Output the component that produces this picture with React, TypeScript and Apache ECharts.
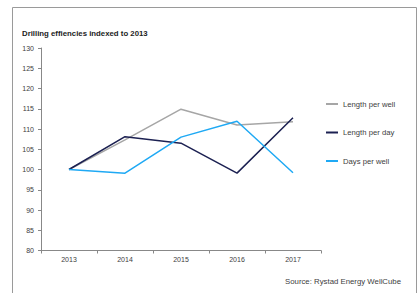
import React, { useEffect, useRef } from "react";
import * as echarts from "echarts";

const years = ["2013", "2014", "2015", "2016", "2017"];
const lengthPerWell = [100, 107.3, 114.9, 111, 111.8];
const lengthPerDay = [100, 108.1, 106.5, 99.1, 112.8];
const daysPerWell = [100, 99.1, 108, 111.9, 99.2];
const seriesNames = ["Length per well", "Length per day", "Days per well"];
const seriesColors = ["#A6A6A6", "#1C2152", "#1FA9F4"];
const titleText = "Drilling effiencies indexed to 2013";
const sourceText = "Source: Rystad Energy WellCube";

export default function App() {
  const ref = useRef<HTMLDivElement>(null);
  useEffect(() => {
    const chart = echarts.init(ref.current!, undefined, { renderer: "svg" });
    const font = "Liberation Sans, Arial, sans-serif";
    const data = [lengthPerWell, lengthPerDay, daysPerWell];
    chart.setOption({
      animation: false,
      textStyle: { fontFamily: font },
      title: {
        text: titleText,
        left: 22,
        top: 29,
        padding: 0,
        textStyle: { fontSize: 7.8, fontWeight: "bold", color: "#222", fontFamily: font },
      },
      legend: {
        orient: "vertical",
        left: 326,
        top: 100,
        itemWidth: 12,
        itemHeight: 2,
        itemGap: 20.5,
        icon: "rect",
        padding: 0,
        data: seriesNames,
        textStyle: { fontSize: 7.7, color: "#404040", fontFamily: font },
      },
      grid: { left: 41, right: 97, top: 48, bottom: 42.5 },
      xAxis: {
        type: "category",
        data: years,
        boundaryGap: true,
        axisLine: { lineStyle: { color: "#888", width: 1 } },
        axisTick: { show: true, length: 3, lineStyle: { color: "#888" } },
        axisLabel: { fontSize: 7, color: "#404040", margin: 5, fontFamily: font },
      },
      yAxis: {
        type: "value",
        min: 80,
        max: 130,
        interval: 5,
        splitLine: { show: false },
        axisLine: { show: true, lineStyle: { color: "#888", width: 1 } },
        axisTick: { show: true, length: 3, lineStyle: { color: "#888" } },
        axisLabel: { fontSize: 7, color: "#404040", margin: 7, fontFamily: font },
      },
      graphic: [
        {
          type: "polyline",
          shape: { points: [[12.5, 293], [12.5, 7.5], [416.5, 7.5], [416.5, 293]] },
          style: { stroke: "#9a9a9a", lineWidth: 1, fill: "none" },
          silent: true,
        },
        {
          type: "text",
          right: 17,
          top: 277,
          style: { text: sourceText, fontSize: 7.8, fill: "#404040", fontFamily: font },
        },
      ],
      series: seriesNames.map((name, i) => ({
        name,
        type: "line",
        data: data[i],
        symbol: "none",
        smooth: false,
        lineStyle: { color: seriesColors[i], width: 1.5 },
        itemStyle: { color: seriesColors[i] },
      })),
    });
    return () => chart.dispose();
  }, []);
  return (
    <div
      ref={ref}
      style={{ position: "fixed", left: 0, top: 0, width: 418, height: 293, background: "#fff" }}
    />
  );
}
